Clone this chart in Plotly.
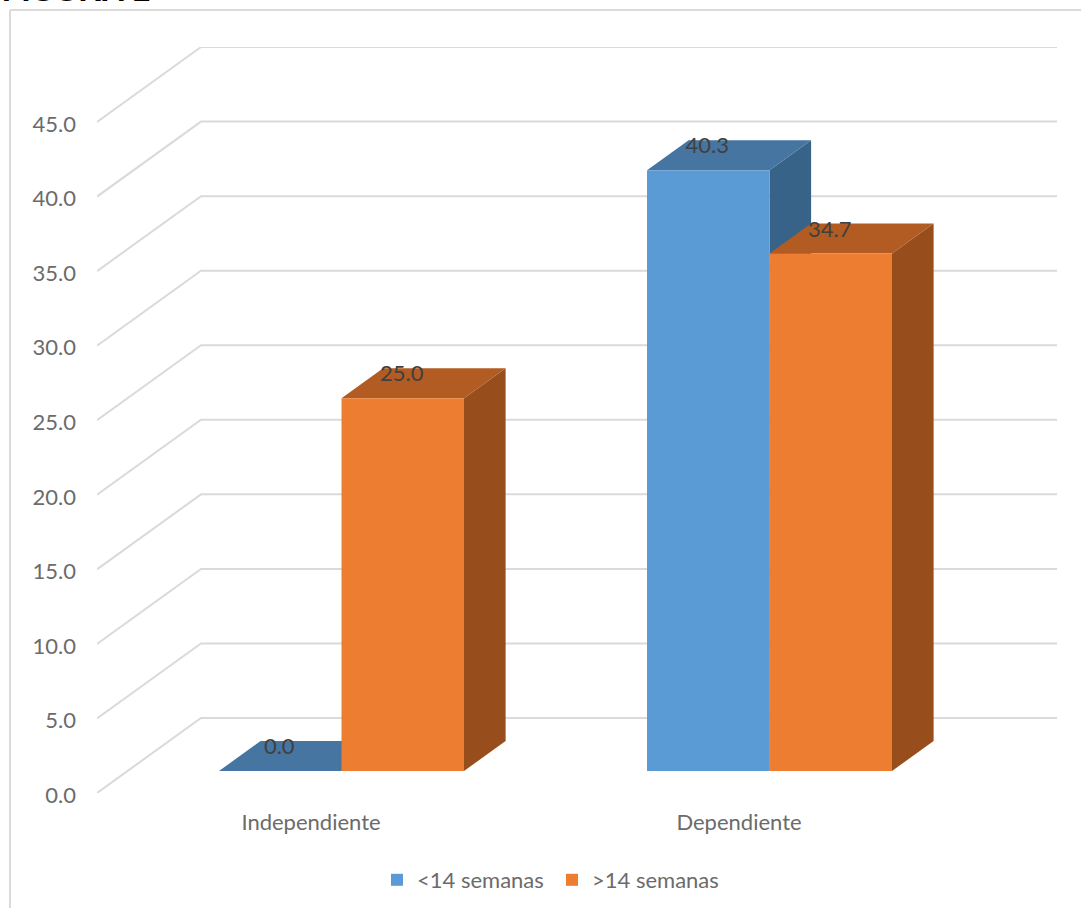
import plotly.graph_objects as go

categories = ["Independiente", "Dependiente"]
series_names = ["<14 semanas", ">14 semanas"]
values_lt14 = [0.0, 40.3]
values_gt14 = [25.0, 34.7]
y_ticks = [0, 5, 10, 15, 20, 25, 30, 35, 40, 45]

W, H = 1081, 908
PX_LEFT, PX_RIGHT, PX_TOP, PX_BOTTOM = 97, 1057, 47, 793
X_MAX = (PX_RIGHT - PX_LEFT) / 428
Y_MAX = (PX_BOTTOM - PX_TOP) / 14.91

# pseudo-3D projection, in axis units
WALL_DX, WALL_DY = 104 / 428, 75 / 14.91
BAR_FRONT = 22 / 75
BAR_DEPTH = 30 / 75
BAR_W = 122.5 / 428


def project(x, y, z):
    return x + z * WALL_DX, y + z * WALL_DY


def px(x):
    return x / W


def py(y):
    return 1 - y / H


GRID = "#dadada"
TXT = "#6b6b6b"
FONT = "Lato"
FS = 22

styles = [
    dict(front="#5b9bd5", top="#4675a1", side="#386388"),
    dict(front="#ed7d31", top="#b25b22", side="#974e1c"),
]

fig = go.Figure()

# walls: diagonal + back gridline for every tick
gx, gy = [], []
for t in y_ticks:
    a = project(0, t, 0)
    b = project(0, t, 1)
    c = project(X_MAX - WALL_DX, t, 1)
    gx += [a[0], b[0], c[0], None]
    gy += [a[1], b[1], c[1], None]
fig.add_trace(go.Scatter(x=gx, y=gy, mode="lines", line=dict(color=GRID, width=2),
                         showlegend=False, hoverinfo="skip", cliponaxis=False, zorder=0))

lx, ly, lt = [], [], []
for s, vals in enumerate([values_lt14, values_gt14]):
    st = styles[s]
    xs, bases = [], []
    top_x, top_y, side_x, side_y = [], [], [], []
    for i, v in enumerate(vals):
        left = i + 0.5 + (s - 1) * BAR_W
        right = left + BAR_W
        p = [project(left, v, BAR_FRONT), project(right, v, BAR_FRONT),
             project(right, v, BAR_FRONT + BAR_DEPTH), project(left, v, BAR_FRONT + BAR_DEPTH)]
        top_x += [q[0] for q in p] + [p[0][0], None]
        top_y += [q[1] for q in p] + [p[0][1], None]
        q0 = project(right, 0, BAR_FRONT)
        q1 = project(right, 0, BAR_FRONT + BAR_DEPTH)
        side_x += [p[1][0], p[2][0], q1[0], q0[0], p[1][0], None]
        side_y += [p[1][1], p[2][1], q1[1], q0[1], p[1][1], None]
        fx, fy = project((left + right) / 2, 0, BAR_FRONT)
        xs.append(fx)
        bases.append(fy)
        lx.append(fx - 1 / 428)
        ly.append(fy + v + 22.5 / 14.91)
        lt.append(f"{v:.1f}")
    z = 1 + 3 * s
    fig.add_trace(go.Scatter(x=side_x, y=side_y, mode="lines", fill="toself", fillcolor=st["side"],
                             line=dict(width=0, color=st["side"]), showlegend=False,
                             hoverinfo="skip", zorder=z))
    fig.add_trace(go.Scatter(x=top_x, y=top_y, mode="lines", fill="toself", fillcolor=st["top"],
                             line=dict(width=0, color=st["top"]), showlegend=False,
                             hoverinfo="skip", zorder=z + 1))
    fig.add_trace(go.Bar(x=xs, y=vals, base=bases, width=BAR_W, name=series_names[s],
                         marker=dict(color=st["front"], line=dict(width=0)), zorder=z + 2))

fig.add_trace(go.Scatter(x=lx, y=ly, text=lt, mode="text", textposition="middle center",
                         textfont=dict(family=FONT, size=FS, color="#404040"),
                         showlegend=False, hoverinfo="skip", zorder=10))

fig.update_layout(
    width=W, height=H, autosize=False,
    margin=dict(l=0, r=0, t=0, b=0, pad=0),
    paper_bgcolor="white", plot_bgcolor="white",
    barmode="overlay",
    font=dict(family=FONT, color=TXT, size=FS),
    xaxis=dict(domain=[px(PX_LEFT), px(PX_RIGHT)], range=[0, X_MAX], tickmode="array",
               tickvals=[0.5, 1.5], ticktext=categories,
               showgrid=False, zeroline=False, showline=False, ticks="", ticklabelstandoff=14,
               automargin=False, tickfont=dict(family=FONT, size=FS, color=TXT), fixedrange=True),
    yaxis=dict(domain=[py(PX_BOTTOM), py(PX_TOP)], range=[0, Y_MAX], tickmode="array", tickvals=y_ticks,
               ticktext=[f"{t:.1f}" for t in y_ticks],
               showgrid=False, zeroline=False, showline=False, ticks="", ticklabelstandoff=20,
               ticklabelshift=2,
               automargin=False, tickfont=dict(family=FONT, size=FS, color=TXT), fixedrange=True),
    legend=dict(orientation="h", x=px(377), xanchor="left", y=py(859), yanchor="top",
                font=dict(family=FONT, size=FS, color=TXT), bgcolor="rgba(0,0,0,0)",
                traceorder="normal", entrywidth=130, entrywidthmode="pixels"),
    shapes=[
        dict(type="line", xref="paper", yref="paper", x0=px(10), x1=1, y0=py(10), y1=py(10),
             line=dict(color=GRID, width=2)),
        dict(type="line", xref="paper", yref="paper", x0=px(10), x1=px(10), y0=py(10), y1=0,
             line=dict(color=GRID, width=2)),
    ],
    annotations=[dict(text="<b>FIGURA 1</b>", xref="paper", yref="paper", x=0, xanchor="left",
                      y=py(10), yanchor="bottom", showarrow=False,
                      font=dict(family="Liberation Sans", size=32, color="black"))],
)

fig.write_html("out.html", config=dict(displayModeBar=False),
               post_script="document.body.style.margin='0';")
